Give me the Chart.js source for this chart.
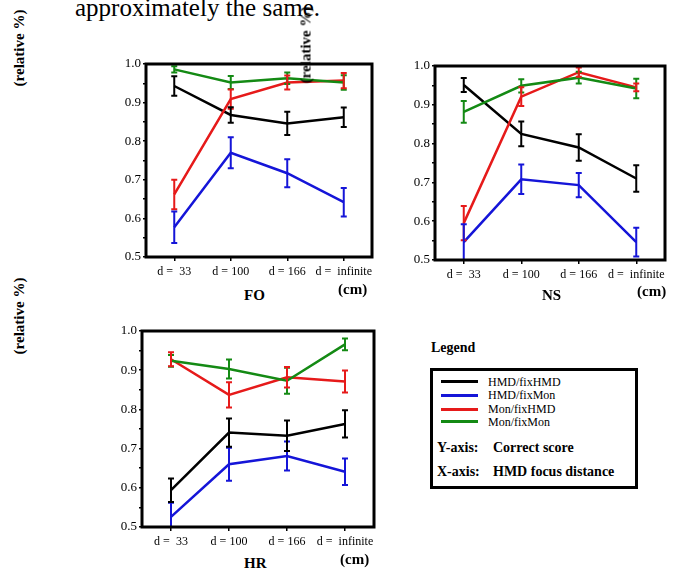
<!DOCTYPE html>
<html>
<head>
<meta charset="utf-8">
<script src="https://cdn.jsdelivr.net/npm/chart.js"></script>
<style>
  html, body { margin: 0; padding: 0; background: #fff; overflow: hidden; }
  body { width: 676px; height: 571px; position: relative; font-family: 'Liberation Serif', 'DejaVu Serif', serif; color: #000; }
  canvas { position: absolute; }
  .txt { position: absolute; white-space: pre; line-height: 1; }
  .b { font-weight: bold; }
  .ytitle { position: absolute; white-space: nowrap; font-weight: bold; font-size: 15px; line-height: 1;
            transform: translate(-50%, -50%) rotate(-90deg); z-index: 5; }
  #legendBox { position: absolute; left: 430px; top: 368px; width: 202px; height: 115px; border: 3px solid #000; }
  .swatch { position: absolute; left: 8px; width: 37px; height: 0; border-top: 3px solid; }
  .entry { position: absolute; left: 55px; font-size: 12px; line-height: 1; }
</style>
</head>
<body>

<div class="txt" style="left:75px; top:-5px; font-size:25px;">approximately the same.</div>

<div class="ytitle" style="left:19px; top:48px;">(relative %)</div>
<div class="ytitle" style="left:306px; top:45px;">(relative %)</div>
<div class="ytitle" style="left:19px; top:316px;">(relative %)</div>

<canvas id="fo"></canvas>
<canvas id="ns"></canvas>
<canvas id="hr"></canvas>

<div class="txt b" style="left:244px; top:288px; font-size:15px;">FO</div>
<div class="txt b" style="left:338px; top:282px; font-size:15px;">(cm)</div>
<div class="txt b" style="left:542px; top:288px; font-size:15px;">NS</div>
<div class="txt b" style="left:637px; top:284px; font-size:15px;">(cm)</div>
<div class="txt b" style="left:244px; top:556px; font-size:15px;">HR</div>
<div class="txt b" style="left:340px; top:552px; font-size:15px;">(cm)</div>

<div class="txt b" style="left:431px; top:341px; font-size:14px;">Legend</div>
<div id="legendBox"></div>

<script>
const distances = ['d =  33', 'd = 100', 'd = 166', 'd =  infinite'];
const seriesNames = ['HMD/fixHMD', 'HMD/fixMon', 'Mon/fixHMD', 'Mon/fixMon'];
const seriesColors = ['#000000', '#1515d8', '#e61a1a', '#148a14'];

// FO panel: mean correct score and error half-width
const foHmdFixHmd = [0.943, 0.868, 0.846, 0.862];
const foHmdFixHmdErr = [0.025, 0.020, 0.030, 0.025];
const foHmdFixMon = [0.577, 0.770, 0.717, 0.642];
const foHmdFixMonErr = [0.041, 0.040, 0.036, 0.037];
const foMonFixHmd = [0.662, 0.909, 0.952, 0.957];
const foMonFixHmdErr = [0.038, 0.025, 0.018, 0.020];
const foMonFixMon = [0.986, 0.952, 0.963, 0.952];
const foMonFixMonErr = [0.008, 0.017, 0.015, 0.019];

// NS panel
const nsHmdFixHmd = [0.951, 0.825, 0.790, 0.710];
const nsHmdFixHmdErr = [0.018, 0.032, 0.034, 0.034];
const nsHmdFixMon = [0.546, 0.708, 0.693, 0.546];
const nsHmdFixMonErr = [0.046, 0.038, 0.031, 0.037];
const nsMonFixHmd = [0.595, 0.921, 0.984, 0.945];
const nsMonFixHmdErr = [0.044, 0.024, 0.012, 0.010];
const nsMonFixMon = [0.882, 0.949, 0.970, 0.942];
const nsMonFixMonErr = [0.028, 0.017, 0.015, 0.025];

// HR panel
const hrHmdFixHmd = [0.594, 0.741, 0.733, 0.763];
const hrHmdFixHmdErr = [0.030, 0.036, 0.039, 0.035];
const hrHmdFixMon = [0.526, 0.660, 0.681, 0.641];
const hrHmdFixMonErr = [0.036, 0.042, 0.037, 0.034];
const hrMonFixHmd = [0.928, 0.837, 0.882, 0.871];
const hrMonFixHmdErr = [0.018, 0.032, 0.026, 0.028];
const hrMonFixMon = [0.924, 0.903, 0.873, 0.966];
const hrMonFixMonErr = [0.015, 0.024, 0.033, 0.015];

Chart.defaults.font.family = "'Liberation Serif', serif";
Chart.defaults.font.size = 12;
Chart.defaults.color = '#000';

const errorBars = {
    id: 'errorBars',
    afterDatasetsDraw(chart) {
        const ctx = chart.ctx;
        const y = chart.scales.y;
        const a = chart.chartArea;
        ctx.save();
        ctx.beginPath();
        ctx.rect(a.left, a.top, a.right - a.left, a.bottom - a.top);
        ctx.clip();
        chart.data.datasets.forEach((ds, i) => {
            const meta = chart.getDatasetMeta(i);
            ctx.strokeStyle = ds.borderColor;
            ctx.lineWidth = 2;
            meta.data.forEach((pt, j) => {
                const top = y.getPixelForValue(ds.data[j] + ds.errors[j]);
                const bot = y.getPixelForValue(ds.data[j] - ds.errors[j]);
                ctx.beginPath();
                ctx.moveTo(pt.x, top); ctx.lineTo(pt.x, bot);
                ctx.moveTo(pt.x - 3, top); ctx.lineTo(pt.x + 3, top);
                ctx.moveTo(pt.x - 3, bot); ctx.lineTo(pt.x + 3, bot);
                ctx.stroke();
            });
        });
        ctx.restore();
    }
};

const frame = {
    id: 'frame',
    afterDraw(chart) {
        const a = chart.chartArea;
        const ctx = chart.ctx;
        ctx.save();
        ctx.strokeStyle = '#000';
        ctx.lineWidth = 3;
        ctx.strokeRect(a.left, a.top, a.right - a.left, a.bottom - a.top);
        ctx.restore();
    }
};

// left/top/right/bottom of the plot box in page pixels
const AXIS_W = 46, AXIS_H = 26, PAD_T = 10, PAD_R = 20;

function makePanel(id, box, values, errors) {
    const canvas = document.getElementById(id);
    canvas.width = (box.r - box.l) + AXIS_W + PAD_R;
    canvas.height = (box.b - box.t) + PAD_T + AXIS_H;
    canvas.style.left = (box.l - AXIS_W) + 'px';
    canvas.style.top = (box.t - PAD_T) + 'px';

    // drawn back to front so that green ends on top
    const order = [3, 2, 1, 0];
    const datasets = order.map(k => ({
        label: seriesNames[k],
        data: values[k],
        errors: errors[k],
        borderColor: seriesColors[k],
        backgroundColor: seriesColors[k],
        borderWidth: 2.5,
        pointRadius: 0,
        tension: 0,
        fill: false
    }));

    new Chart(canvas, {
        type: 'line',
        data: { labels: distances, datasets: datasets },
        options: {
            responsive: false,
            animation: false,
            devicePixelRatio: 1,
            layout: { padding: { top: PAD_T, right: PAD_R, left: 0, bottom: 0 } },
            plugins: { legend: { display: false }, tooltip: { enabled: false } },
            scales: {
                x: {
                    type: 'category',
                    offset: true,
                    border: { display: false },
                    grid: { drawOnChartArea: false, tickLength: 4, color: '#000', lineWidth: 1.5 },
                    ticks: { padding: 4, maxRotation: 0, autoSkip: false },
                    afterFit(s) { s.height = AXIS_H; }
                },
                y: {
                    min: 0.5,
                    max: 1.0,
                    border: { display: false },
                    grid: { drawOnChartArea: false, tickLength: 3, color: '#000', lineWidth: 1.5 },
                    ticks: {
                        stepSize: 0.05,
                        padding: 2,
                        font: { size: 13 },
                        callback: v => Math.round(v * 100) % 10 === 0 ? v.toFixed(1) : ''
                    },
                    afterFit(s) { s.width = AXIS_W; }
                }
            }
        },
        plugins: [errorBars, frame]
    });
}

makePanel('fo', { l: 146, t: 64, r: 372, b: 257 },
    [foHmdFixHmd, foHmdFixMon, foMonFixHmd, foMonFixMon],
    [foHmdFixHmdErr, foHmdFixMonErr, foMonFixHmdErr, foMonFixMonErr]);

makePanel('ns', { l: 435, t: 66, r: 665, b: 260 },
    [nsHmdFixHmd, nsHmdFixMon, nsMonFixHmd, nsMonFixMon],
    [nsHmdFixHmdErr, nsHmdFixMonErr, nsMonFixHmdErr, nsMonFixMonErr]);

makePanel('hr', { l: 142, t: 331, r: 374, b: 527 },
    [hrHmdFixHmd, hrHmdFixMon, hrMonFixHmd, hrMonFixMon],
    [hrHmdFixHmdErr, hrHmdFixMonErr, hrMonFixHmdErr, hrMonFixMonErr]);

// legend box
const legendBox = document.getElementById('legendBox');
const rowY = [10.5, 24, 38, 50.5];
seriesNames.forEach((name, i) => {
    legendBox.innerHTML +=
        `<div class="swatch" style="top:${rowY[i] - 1.5}px; border-color:${seriesColors[i]}"></div>` +
        `<div class="entry" style="top:${rowY[i] - 6}px">${name}</div>`;
});
legendBox.innerHTML +=
    '<div class="txt b" style="left:4px; top:70px; font-size:14px;">Y-axis:</div>' +
    '<div class="txt b" style="left:60px; top:70px; font-size:14px;">Correct score</div>' +
    '<div class="txt b" style="left:4px; top:94px; font-size:14px;">X-axis:</div>' +
    '<div class="txt b" style="left:60px; top:94px; font-size:14px;">HMD focus distance</div>';
</script>
</body>
</html>
